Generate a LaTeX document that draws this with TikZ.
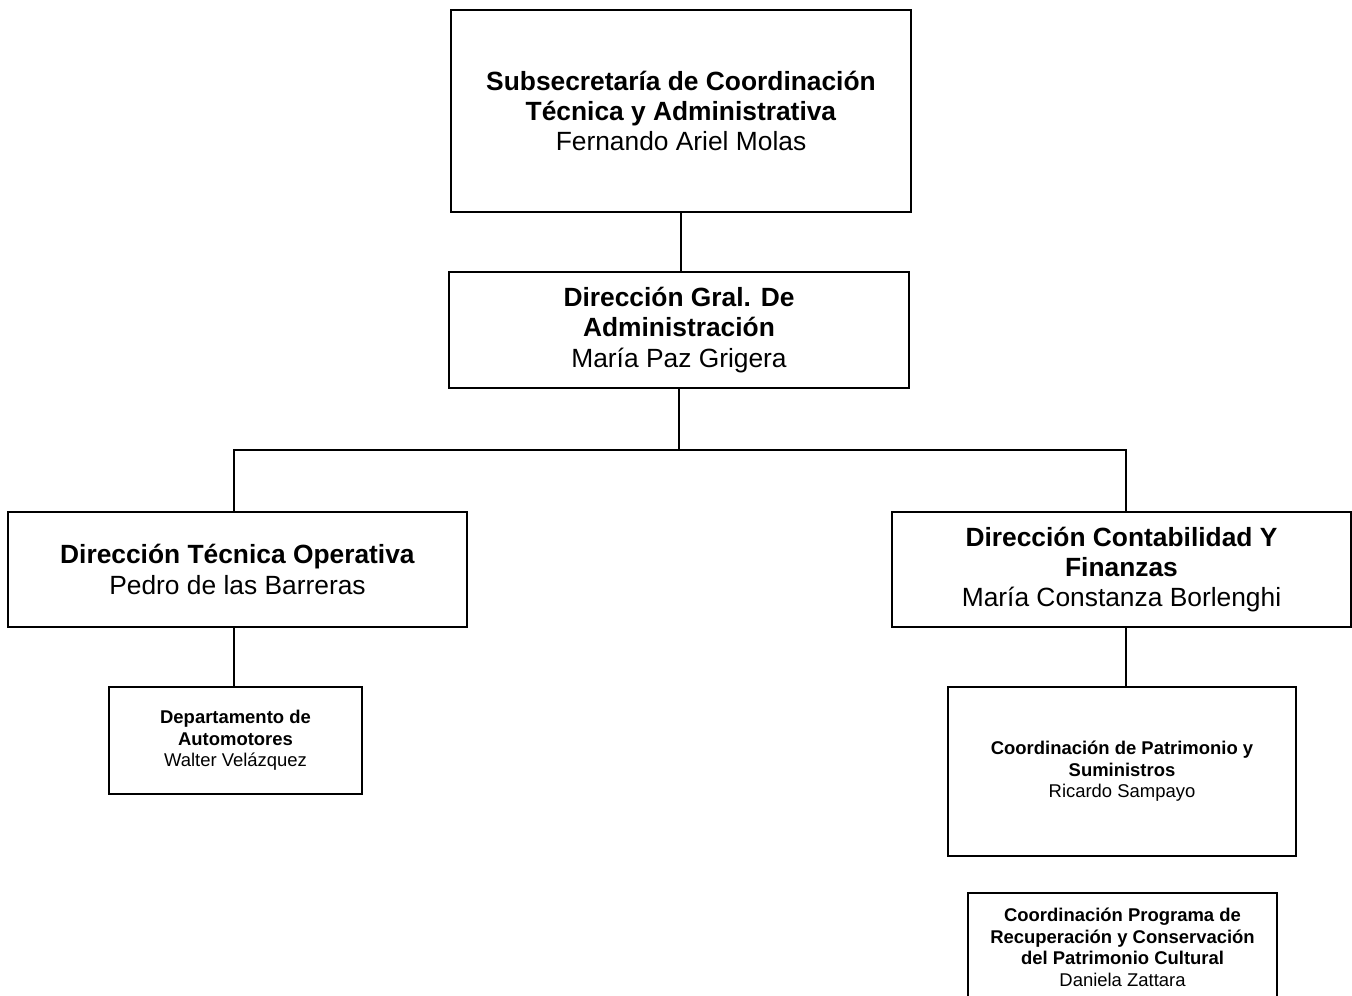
\documentclass[tikz,border=0pt]{standalone}
\usepackage{fontspec}
\setmainfont{Liberation Sans}
\usetikzlibrary{positioning}
\tikzstyle{bigunit}   = [rectangle, draw=black, line width=1.2pt, text centered, inner sep=0pt, font=\fontsize{15}{17.3}\selectfont]
\tikzstyle{smallunit} = [rectangle, draw=black, line width=1.2pt, text centered, inner sep=0pt, font=\fontsize{10.5}{12.3}\selectfont]
\tikzstyle{link}      = [line width=1.2pt]
\tikzset{every node/.style={align=center}}

\begin{document}
\begin{tikzpicture}[x=0.02cm, y=-0.02cm]
    \useasboundingbox (0,0) rectangle (1352,996);
    \node[bigunit, minimum width=9.2cm, minimum height=4.04cm] (sub) at (681,111)
        {\textbf{Subsecretaría de Coordinación}\\\textbf{Técnica y Administrativa}\\Fernando Ariel Molas};
    \node[bigunit, minimum width=9.2cm, minimum height=2.32cm] (dga) at (679,330)
        {\textbf{Dirección Gral. De}\\\textbf{Administración}\\María Paz Grigera};
    \node[bigunit, minimum width=9.18cm, minimum height=2.3cm] (dto) at (237.5,569.5)
        {\textbf{Dirección Técnica Operativa}\\Pedro de las Barreras};
    \node[bigunit, minimum width=9.18cm, minimum height=2.3cm] (dcf) at (1121.5,569.5)
        {\textbf{Dirección Contabilidad Y}\\\textbf{Finanzas}\\María Constanza Borlenghi};
    \node[smallunit, minimum width=5.06cm, minimum height=2.14cm] (auto) at (235.5,740.5)
        {\textbf{Departamento de}\\\textbf{Automotores}\\Walter Velázquez};
    \node[smallunit, minimum width=6.96cm, minimum height=3.38cm] (pat) at (1122,771.5)
        {\textbf{Coordinación de Patrimonio y}\\\textbf{Suministros}\\Ricardo Sampayo};
    \node[smallunit, minimum width=6.18cm, minimum height=2.18cm] (prog) at (1122.5,947.5)
        {\textbf{Coordinación Programa de}\\\textbf{Recuperación y Conservación}\\\textbf{del Patrimonio Cultural}\\Daniela Zattara};

    \draw[link] (sub.south) -- (sub.south |- dga.north);
    \draw[link] (dga.south) -- ++(0,61) coordinate (bus);
    \draw[link] ([xshift=-0.07cm]dto.north) |- (bus) -| ([xshift=0.09cm]dcf.north);
    \draw[link] ([xshift=-0.07cm]dto.south) -- ([xshift=-0.07cm]dto.south |- auto.north);
    \draw[link] ([xshift=0.09cm]dcf.south) -- ([xshift=0.09cm]dcf.south |- pat.north);
\end{tikzpicture}
\end{document}
